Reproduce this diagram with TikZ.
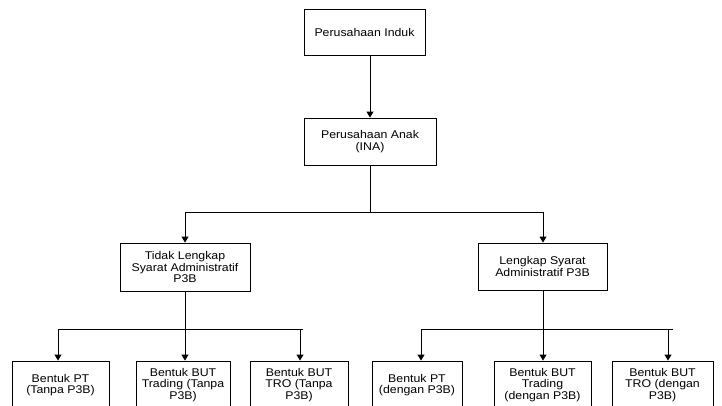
\documentclass[tikz,border=0pt]{standalone}
\usepackage{fontspec}
\setmainfont{Liberation Sans}[FakeStretch=1.1]
\usetikzlibrary{arrows.meta,calc}
\begin{document}
\begin{tikzpicture}[x=1pt,y=-1pt,
  box/.style={draw=black,line width=0.9pt,fill=white,inner sep=0pt,align=center,
    font=\fontsize{11.2}{11.6}\selectfont},
  conn/.style={draw=black,line width=0.9pt},
  arr/.style={conn,-{Triangle[width=7pt,length=6pt]}}]
\clip (0,0) rectangle (722,405);
\fill[white] (0,0) rectangle (722,405);
% level 0-1
\node[box,minimum width=121pt,minimum height=46pt] (n1) at (364.5,32) {Perusahaan Induk};
\node[box,minimum width=132pt,minimum height=47pt] (n2) at (370,141.5) {Perusahaan Anak\\(INA)};
% level 2
\node[box,minimum width=130pt,minimum height=48pt] (n3) at (185,267) {Tidak Lengkap\\Syarat Administratif\\P3B};
\node[box,minimum width=129pt,minimum height=47pt] (n4) at (542.5,266.5) {Lengkap Syarat\\Administratif P3B};
% level 3
\node[box,minimum width=97pt,minimum height=48pt] (b1) at (60.5,385) {Bentuk PT\\(Tanpa P3B)};
\node[box,minimum width=94pt,minimum height=48pt] (b2) at (183,385) {Bentuk BUT\\Trading (Tanpa\\P3B)};
\node[box,minimum width=98pt,minimum height=48pt] (b3) at (299,385) {Bentuk BUT\\TRO (Tanpa\\P3B)};
\node[box,minimum width=90pt,minimum height=48pt] (b4) at (417,385) {Bentuk PT\\(dengan P3B)};
\node[box,minimum width=97pt,minimum height=48pt] (b5) at (542.5,385) {Bentuk BUT\\Trading\\(dengan P3B)};
\node[box,minimum width=101pt,minimum height=48pt] (b6) at (662.5,385) {Bentuk BUT\\TRO (dengan\\P3B)};
% connectors
\draw[arr] (n1.south -| n2.north) -- (n2.north);
\coordinate (m1) at (185,212);
\coordinate (m2) at (543,212);
\draw[conn] (n2.south) -- (n2.south |- m1);
\draw[conn] (m1) -- (m2);
\draw[arr] (m1) -- (m1 |- n3.north);
\draw[arr] (m2) -- (m2 |- n4.north);
% left group
\coordinate (t1) at (58,329);
\coordinate (t2) at (185,329);
\coordinate (t3) at (300,329);
\coordinate (t3e) at (303,329);
\draw[conn] (n3.south) -- (t2);
\draw[conn] (t1) -- (t3e);
\draw[arr] (t1) -- (t1 |- b1.north);
\draw[arr] (t2) -- (t2 |- b2.north);
\draw[arr] (t3) -- (t3 |- b3.north);
% right group
\coordinate (u1) at (421,329);
\coordinate (u2) at (543,329);
\coordinate (u3) at (668,329);
\coordinate (u3e) at (673,329);
\draw[conn] (n4.south -| u2) -- (u2);
\draw[conn] (u1) -- (u3e);
\draw[arr] (u1) -- (u1 |- b4.north);
\draw[arr] (u2) -- (u2 |- b5.north);
\draw[arr] (u3) -- (u3 |- b6.north);
\end{tikzpicture}
\end{document}
